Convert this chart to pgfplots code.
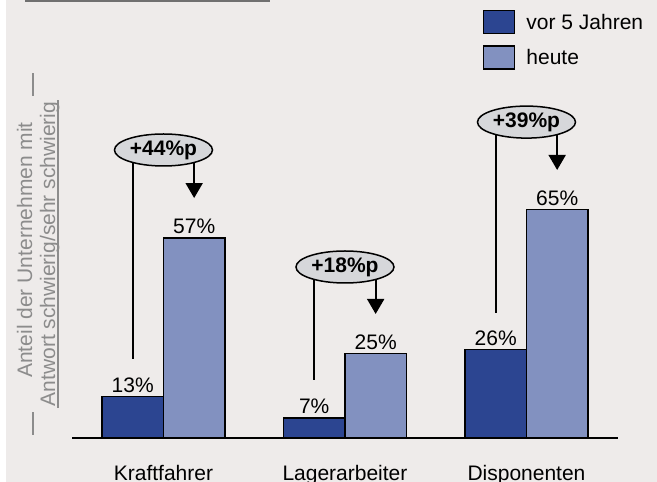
\documentclass[border=0pt]{standalone}
\usepackage{pgfplots}
\pgfplotsset{compat=1.18}
\usepackage{fontspec}
\setmainfont{Liberation Sans}
\usetikzlibrary{shapes.geometric,arrows.meta}
\definecolor{bg}{HTML}{EEEBEA}
\definecolor{darkb}{HTML}{2C4591}
\definecolor{lightb}{HTML}{8291C0}
\definecolor{ellfill}{HTML}{D6D7DA}
\definecolor{lab}{HTML}{8C8C8C}
\definecolor{topline}{HTML}{707070}
\newcommand{\bigfont}{\fontsize{21bp}{25bp}\selectfont}
\begin{document}
\begin{tikzpicture}[x=1bp,y=1bp]
\useasboundingbox (0,0) rectangle (657,482);
\fill[bg] (6,0) rectangle (657,482);
\draw[topline, line width=2bp] (25,481) -- (270,481);
% y label
\node[rotate=90, anchor=base, text=lab, inner sep=0pt, font=\bigfont] at (32,232) {Anteil der Unternehmen mit};
\node[rotate=90, anchor=base, text=lab, inner sep=0pt, font=\bigfont] at (55,228) {Antwort schwierig/sehr schwierig};
\draw[lab, line width=1.2bp] (58,74) -- (58,382);
\draw[lab, line width=2bp] (33,386) -- (33,409);
\draw[lab, line width=2bp] (33,47) -- (33,70);
\begin{axis}[
  at={(72bp,44bp)}, anchor=south west,
  x=181.5bp, y=3.6bp,
  xmin=-0.504, xmax=2.504, ymin=1.45, ymax=100,
  ybar=0pt, bar width=61.5bp,
  axis x line*=bottom, axis y line=none,
  axis line style={line width=1.8bp, black},
  xtick={0,1,2}, xticklabels={Kraftfahrer,Lagerarbeiter,Disponenten},
  xtick style={draw=none},
  ytick=\empty,
  xticklabel style={font=\bigfont, yshift=-20bp},
  /pgf/number format/assume math mode=true,
  nodes near coords={\pgfmathprintnumber{\pgfplotspointmeta}\%},
  every node near coord/.append style={font=\bigfont, text=black},
  legend image code/.code={\draw[#1] (0bp,-11bp) rectangle (31bp,12bp);},
  legend style={at={(axis description cs:0.7527,1.2064)}, anchor=north west,
    draw=none, fill=none, inner sep=0pt, row sep=11bp, column sep=11bp,
    nodes={inner sep=0pt, font=\bigfont}},
  legend cell align=left,
]
\addplot[fill=darkb, draw=black, line width=1.3bp] coordinates {(0,13) (1,7) (2,26)};
\addplot[fill=lightb, draw=black, line width=1.3bp] coordinates {(0,57) (1,25) (2,65)};
\legend{vor 5 Jahren, heute}
% callouts
\draw[line width=1.8bp] (axis cs:-0.169,23.4) -- (axis cs:-0.169,81.45);
\draw[line width=1.8bp, -{Triangle[width=17bp,length=15bp]}] (axis cs:0.169,81.45) -- (axis cs:0.169,68.1);
\node[ellipse, draw, line width=1.5bp, fill=ellfill, minimum width=98bp, minimum height=32bp, inner sep=0pt, font=\bigfont\bfseries] at (axis cs:0,81.45) {+44\%p};
\draw[line width=1.8bp] (axis cs:0.831,17.6) -- (axis cs:0.831,48.95);
\draw[line width=1.8bp, -{Triangle[width=17bp,length=15bp]}] (axis cs:1.169,48.95) -- (axis cs:1.169,35.9);
\node[ellipse, draw, line width=1.5bp, fill=ellfill, minimum width=98bp, minimum height=32bp, inner sep=0pt, font=\bigfont\bfseries] at (axis cs:1,48.95) {+18\%p};
\draw[line width=1.8bp] (axis cs:1.831,36.2) -- (axis cs:1.831,89.2);
\draw[line width=1.8bp, -{Triangle[width=17bp,length=15bp]}] (axis cs:2.169,89.2) -- (axis cs:2.169,75.9);
\node[ellipse, draw, line width=1.5bp, fill=ellfill, minimum width=98bp, minimum height=32bp, inner sep=0pt, font=\bigfont\bfseries] at (axis cs:2,89.2) {+39\%p};
\end{axis}
\end{tikzpicture}
\end{document}
